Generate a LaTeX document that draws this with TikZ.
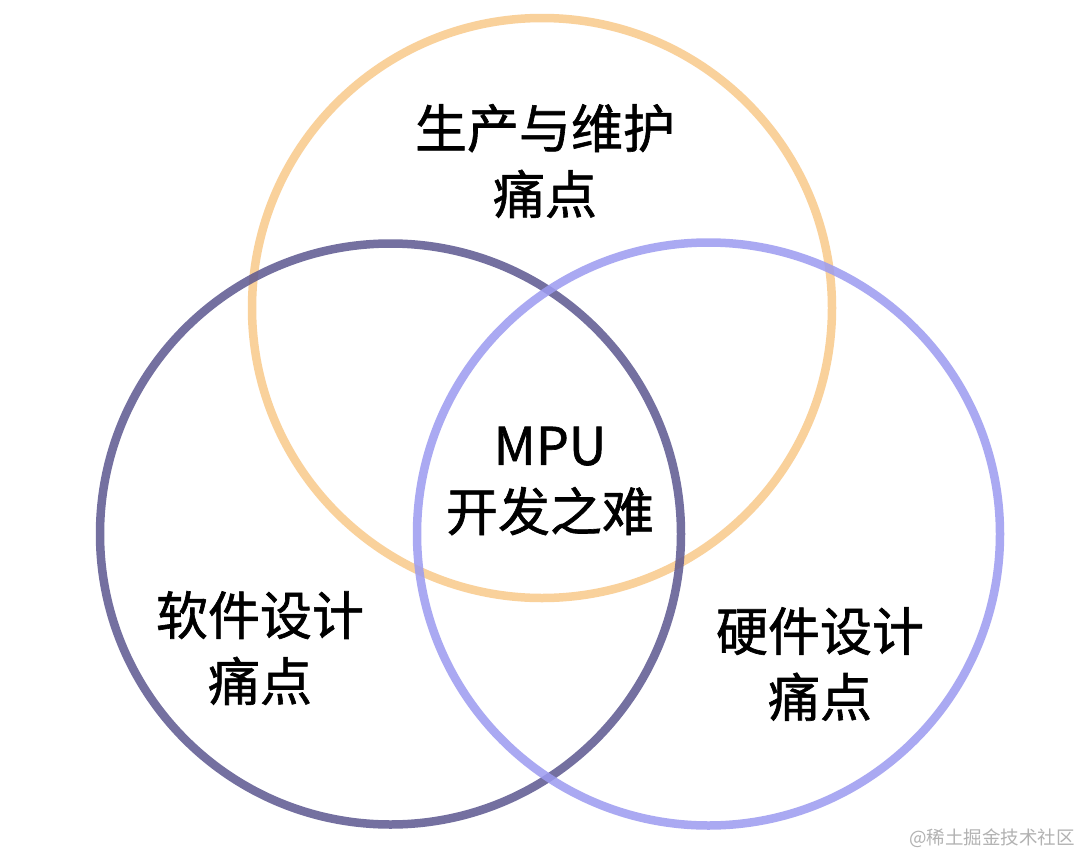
\documentclass[tikz,border=0pt]{standalone}
\usepackage{fontspec}
\newfontfamily\cjk[FakeBold=1.2]{Noto Sans CJK SC}
\newfontfamily\cjkw{Noto Sans CJK SC}
\definecolor{corange}{HTML}{F9C98A}
\definecolor{cdark}{HTML}{5C5790}
\definecolor{clight}{HTML}{9C9BF0}
\tikzset{
  ring/.style={line width=8.5pt, draw opacity=0.85, fill=none},
  lbl/.style={font=\cjk\fontsize{52}{66}\selectfont, align=center, text=black, inner sep=0pt},
  wm/.style={font=\cjkw\fontsize{18.5}{20}\selectfont, text=black!30, anchor=east, inner sep=0pt}
}
\begin{document}
\begin{tikzpicture}[x=1pt,y=-1pt]
\useasboundingbox (0,0) rectangle (1080,857);
\fill[white] (0,0) rectangle (1080,857);
\draw[ring, corange] (542,308) circle[radius=290];
\draw[ring, cdark] (390.5,534) circle[radius=290.5];
\draw[ring, clight] (708.5,534) circle[radius=291.5];
\node[lbl] (top) at (545,161) {生产与维护\\痛点};
\node[lbl] (mid) at (550,481) {MPU\\开发之难};
\node[lbl] (left) at (260,648) {软件设计\\痛点};
\node[lbl] (right) at (820,664) {硬件设计\\痛点};
\node[wm] (wm) at (1075,838) {@稀土掘金技术社区};
\end{tikzpicture}
\end{document}
